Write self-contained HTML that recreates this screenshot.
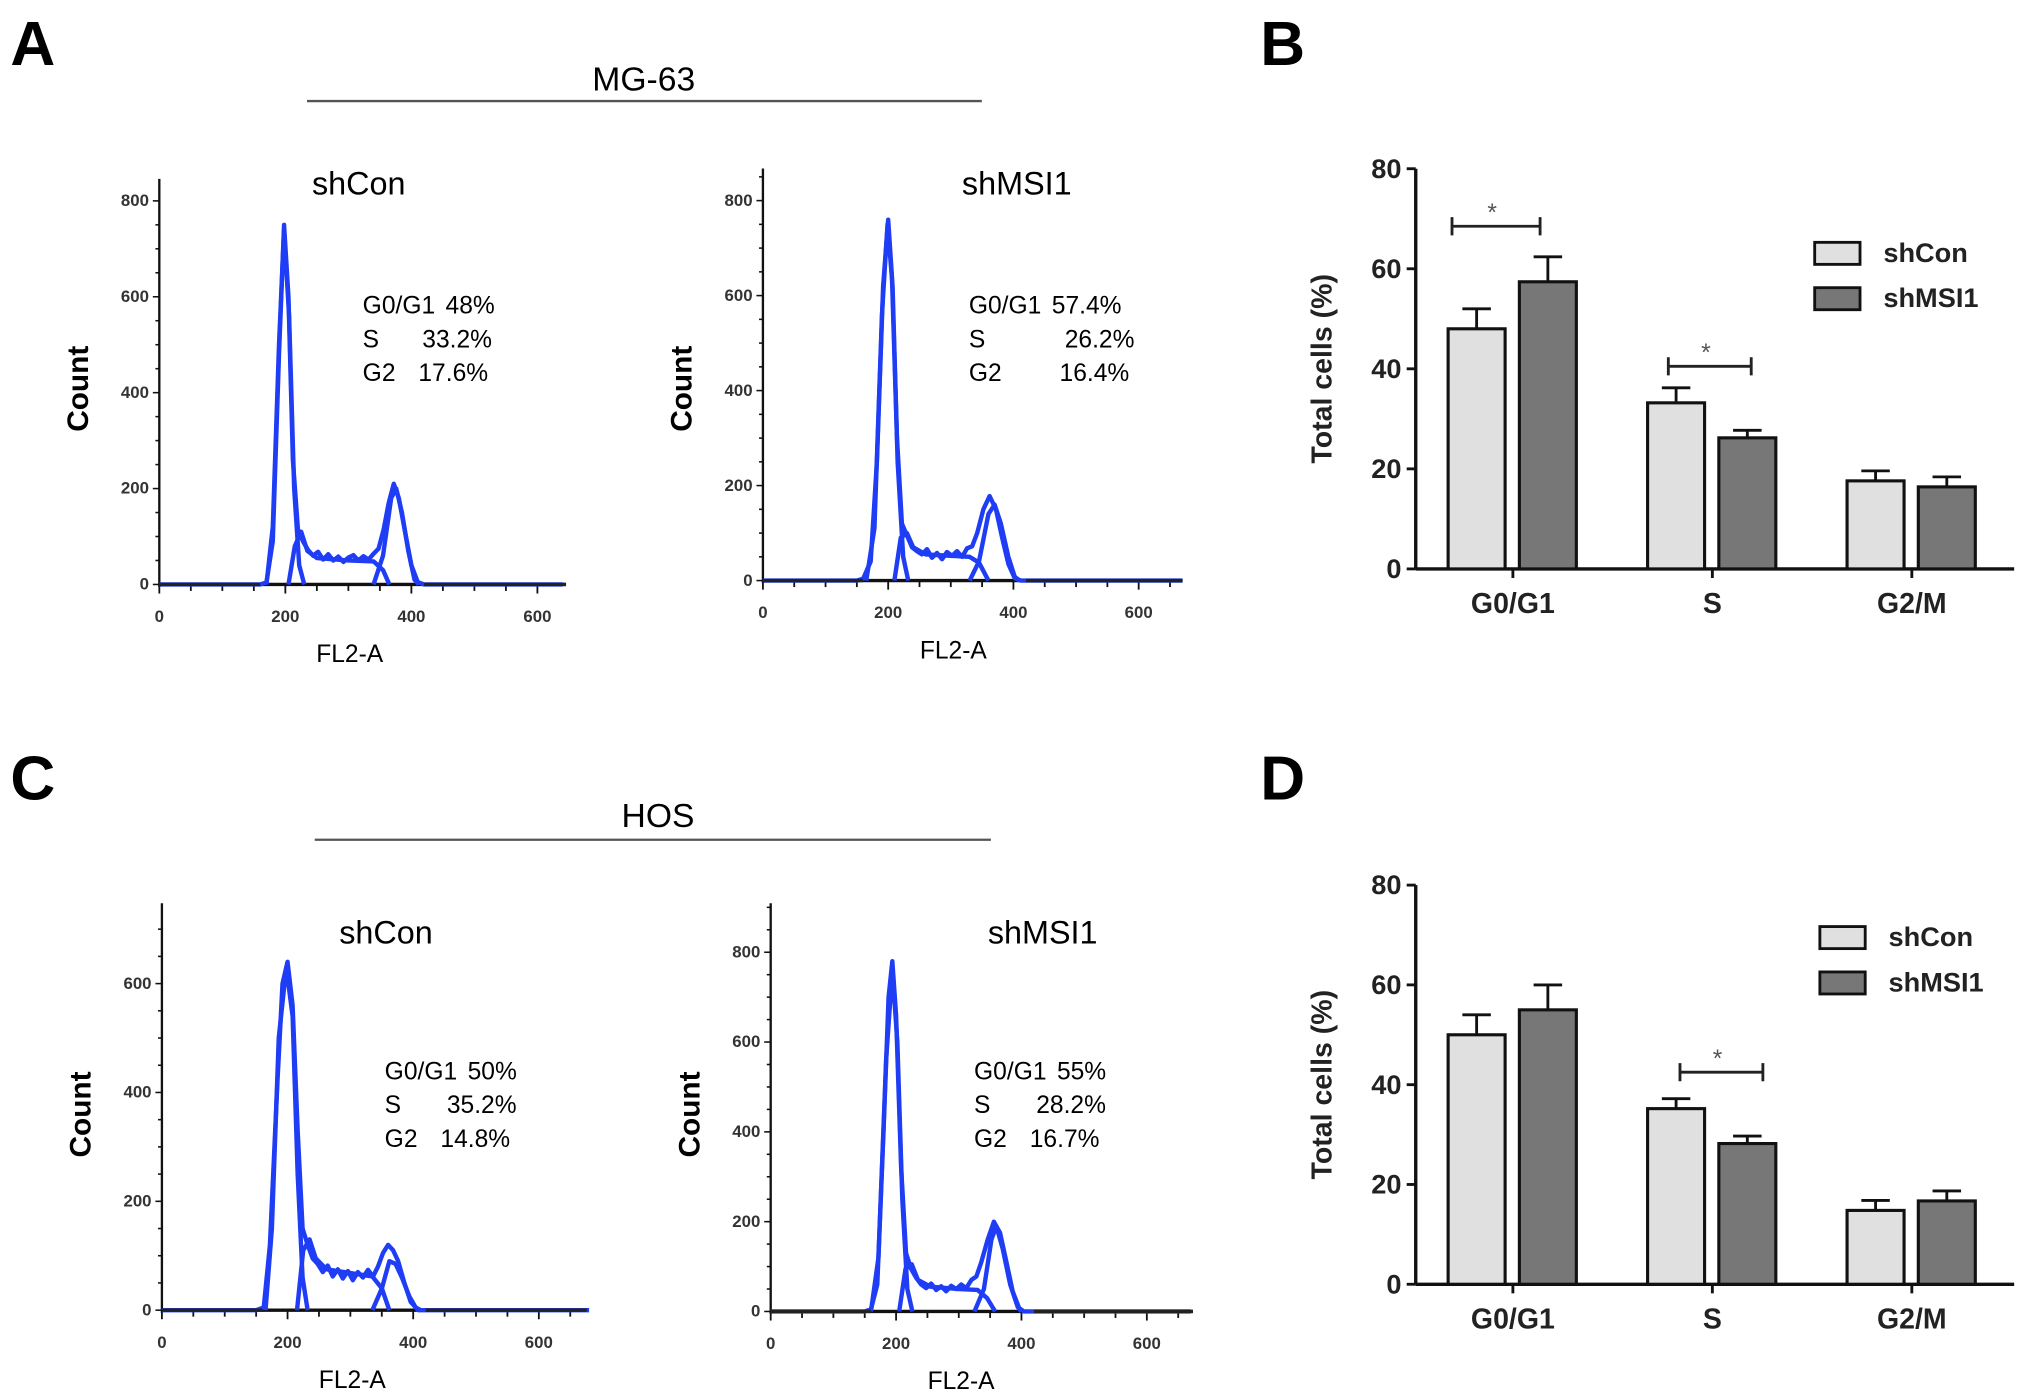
<!DOCTYPE html>
<html><head><meta charset="utf-8"><style>
html,body{margin:0;padding:0;background:#fff;}
svg{display:block;font-family:"Liberation Sans",Arial,sans-serif;}
</style></head><body>
<svg id="fig" width="2031" height="1397" viewBox="0 0 1568 1078" preserveAspectRatio="none" xmlns="http://www.w3.org/2000/svg">
<rect width="1568" height="1078" fill="#fff"/>
<g font-weight="bold" font-size="48" fill="#000">
<text x="8" y="50">A</text>
<text x="973" y="50">B</text>
<text x="8" y="617">C</text>
<text x="973" y="617">D</text>
</g>
<text x="497" y="70" font-size="26" text-anchor="middle">MG-63</text>
<line x1="237" y1="78" x2="758" y2="78" stroke="#555" stroke-width="1.8"/>
<text x="508" y="638" font-size="26" text-anchor="middle">HOS</text>
<line x1="243" y1="648" x2="765" y2="648" stroke="#555" stroke-width="1.8"/>
<g id="plots"></g>
</svg>
<script>
// ---------- Histogram data (FL2-A channel, count) ----------
const h1Total=[[0,0],[160,0],[170,4],[180,90],[190,480],[198,750],[205,600],[212,260],[220,115],[228,90],[236,72],[244,60],[252,68],[260,52],[268,63],[276,50],[284,58],[292,47],[300,56],[308,61],[316,50],[324,59],[332,52],[340,64],[348,75],[356,115],[364,170],[372,210],[380,180],[390,110],[400,40],[410,5],[420,0],[640,0]];
const h1G1=[[170,0],[180,120],[190,500],[198,740],[206,560],[214,200],[222,40],[230,0]];
const h1S=[[205,0],[215,80],[225,110],[235,70],[250,55],[300,50],[340,48],[355,30],[365,0]];
const h1G2=[[340,0],[355,60],[368,180],[376,200],[385,150],[395,70],[405,10],[412,0]];

const h2Total=[[0,0],[150,0],[160,4],[172,40],[182,250],[192,620],[200,760],[206,640],[214,300],[222,120],[230,95],[238,70],[246,62],[254,55],[262,66],[270,48],[278,58],[286,45],[294,60],[302,52],[310,62],[318,50],[326,68],[334,72],[342,100],[352,150],[362,178],[372,150],[382,90],[392,35],[402,5],[412,0],[670,0]];
const h2G1=[[165,0],[178,110],[190,560],[199,750],[207,620],[215,250],[224,50],[232,0]];
const h2S=[[210,0],[220,90],[230,100],[240,70],[260,55],[300,52],[330,50],[345,38],[360,0]];
const h2G2=[[330,0],[345,40],[360,140],[370,160],[380,120],[392,50],[402,8],[410,0]];

const h3Total=[[0,0],[150,0],[162,5],[172,120],[184,420],[192,600],[200,640],[208,560],[216,330],[224,150],[232,120],[240,95],[248,85],[256,70],[264,82],[272,62],[280,75],[288,58],[296,72],[304,55],[312,70],[320,60],[328,74],[336,62],[344,80],[352,105],[360,120],[368,110],[376,90],[386,50],[396,15],[408,0],[680,0]];
const h3G1=[[165,0],[175,150],[186,500],[198,630],[208,540],[216,250],[224,60],[232,0]];
const h3S=[[215,0],[225,110],[235,130],[245,95],[262,75],[300,68],[335,62],[350,40],[362,0]];
const h3G2=[[335,0],[350,40],[362,90],[372,85],[382,60],[394,25],[404,5],[412,0]];

const h4Total=[[0,0],[150,0],[160,5],[170,60],[180,400],[188,700],[194,780],[200,660],[208,320],[216,130],[224,95],[232,75],[240,60],[248,52],[256,62],[264,48],[272,56],[280,45],[288,57],[296,50],[304,60],[312,52],[320,70],[328,78],[336,110],[346,160],[356,200],[366,175],[376,110],[386,45],[396,8],[404,0],[670,0]];
const h4G1=[[160,0],[172,120],[184,560],[194,760],[202,600],[210,250],[218,50],[226,0]];
const h4S=[[205,0],[215,95],[225,105],[235,70],[255,55],[300,50],[330,48],[345,30],[358,0]];
const h4G2=[[325,0],[340,50],[352,160],[360,190],[370,140],[382,60],[394,10],[400,0]];

const histTicksX=[0,200,400,600];
const histTicksY1=[0,200,400,600,800];
const histTicksY3=[0,200,400,600];

// ---------- Bar chart data ----------
const phases=["G0/G1","S","G2/M"];
const bShCon=[48,33.2,17.6];
const bShMSI1=[57.4,26.2,16.4];
const bErrCon=[4,3,2];
const bErrMSI=[5,1.5,2];
const dShCon=[50,35.2,14.8];
const dShMSI1=[55,28.2,16.7];
const dErrCon=[4,2,2];
const dErrMSI=[5,1.5,2];
const barTicksY=[0,20,40,60,80];

const NS="http://www.w3.org/2000/svg";
const root=document.getElementById('plots');
function mk(tag,attrs,parent,txt){const e=document.createElementNS(NS,tag);for(const k in attrs)e.setAttribute(k,attrs[k]);if(txt!==undefined)e.textContent=txt;(parent||root).appendChild(e);return e;}

function hist(cfg){
  const g=mk('g',{});
  
  
  const sx=v=>cfg.x0+(v/200)*cfg.px200;
  const sy=v=>cfg.y0-(v/200)*cfg.py200;
  const ya=mk('line',{x1:cfg.x0,y1:cfg.y0+2,x2:cfg.x0,y2:cfg.ytop,stroke:'#111','stroke-width':1.8},g);
  
  
  const xa=mk('line',{x1:cfg.x0,y1:cfg.y0,x2:cfg.xend,y2:cfg.y0,stroke:'#111','stroke-width':2.6},g);
  
  
  for(let v=0;sx(v)<=cfg.xend;v+=50){mk('line',{x1:sx(v),y1:cfg.y0,x2:sx(v),y2:cfg.y0+(v%200===0?7:5),stroke:'#111','stroke-width':1.4},g);}
  for(let v=0;sy(v)>=cfg.ytop;v+=50){mk('line',{x1:cfg.x0,y1:sy(v),x2:cfg.x0-(v%200===0?5:3),y2:sy(v),stroke:'#111','stroke-width':1.2},g);}
  cfg.ticksX.forEach(v=>{const t=mk('text',{x:sx(v),y:cfg.y0+29,'font-size':13,'text-anchor':'middle','font-weight':'bold','fill':'#333'},g,String(v));});
  cfg.ticksY.forEach(v=>{const t=mk('text',{x:cfg.x0-8,y:sy(v)+4,'font-size':13,'text-anchor':'end','font-weight':'bold','fill':'#333'},g,String(v));});
  const xt=mk('text',{x:cfg.x0+147,y:cfg.y0+60,'font-size':19,'text-anchor':'middle'},g,'FL2-A');
  
  const yt=mk('text',{transform:`translate(${cfg.x0-55},${cfg.ycount}) rotate(-90)`,'font-size':23,'font-weight':'bold','text-anchor':'middle'},g,'Count');
  
  const tt=mk('text',{x:cfg.titleX,y:cfg.titleY,'font-size':25,'text-anchor':'middle'},g,cfg.title);
  
  cfg.stats.forEach((s,i)=>{
    const a=mk('text',{x:cfg.statX,y:cfg.statY+i*26,'font-size':19},g,s[0]);
    
    const b=mk('text',{x:cfg.statX+s[2],y:cfg.statY+i*26,'font-size':19},g,s[1]);
    
  });
  const path=pts=>pts.map((p,i)=>(i?'L':'M')+sx(p[0]).toFixed(1)+' '+sy(p[1]).toFixed(1)).join(' ');
  [['total-trace',cfg.total],['g1-fit',cfg.g1],['s-fit',cfg.s],['g2-fit',cfg.g2]].forEach(([n,d])=>{
    const p=mk('path',{d:path(d),fill:'none',stroke:'#1f3df5','stroke-width':3.4,'stroke-linejoin':'round'},g);
    
  });
  mk('line',{x1:cfg.x0,y1:cfg.y0,x2:sx(160),y2:cfg.y0,stroke:'#222','stroke-width':2.6},g);
  mk('line',{x1:sx(420),y1:cfg.y0,x2:cfg.xend,y2:cfg.y0,stroke:'#222','stroke-width':2.6},g);
}

hist({name:'histogram-mg63-shcon',x0:123,y0:451,px200:97.3,py200:74,ytop:138,xend:437,ticksX:histTicksX,ticksY:histTicksY1,ycount:300,title:'shCon',titleX:277,titleY:150,statX:280,statY:242,stats:[['G0/G1','48%',64],['S','33.2%',46],['G2','17.6%',43]],total:h1Total,g1:h1G1,s:h1S,g2:h1G2});
hist({name:'histogram-mg63-shmsi1',x0:589,y0:448,px200:96.7,py200:73.3,ytop:130,xend:913,ticksX:histTicksX,ticksY:histTicksY1,ycount:300,title:'shMSI1',titleX:785,titleY:150,statX:748,statY:242,stats:[['G0/G1','57.4%',64],['S','26.2%',74],['G2','16.4%',70]],total:h2Total,g1:h2G1,s:h2S,g2:h2G2});
hist({name:'histogram-hos-shcon',x0:125,y0:1011,px200:97,py200:84,ytop:697,xend:453,ticksX:histTicksX,ticksY:histTicksY3,ycount:860,title:'shCon',titleX:298,titleY:728,statX:297,statY:833,stats:[['G0/G1','50%',64],['S','35.2%',48],['G2','14.8%',43]],total:h3Total,g1:h3G1,s:h3S,g2:h3G2});
hist({name:'histogram-hos-shmsi1',x0:595,y0:1012,px200:96.8,py200:69.3,ytop:697,xend:921,ticksX:histTicksX,ticksY:histTicksY1,ycount:860,title:'shMSI1',titleX:805,titleY:728,statX:752,statY:833,stats:[['G0/G1','55%',64],['S','28.2%',48],['G2','16.7%',43]],total:h4Total,g1:h4G1,s:h4S,g2:h4G2});

function bars(cfg){
  const g=mk('g',{});
  
  
  const sy=v=>cfg.y0-v*cfg.pu;
  const ya=mk('line',{x1:cfg.x0,y1:cfg.y0,x2:cfg.x0,y2:sy(80),stroke:'#111','stroke-width':2.6},g);
  
  const xa=mk('line',{x1:cfg.x0,y1:cfg.y0,x2:1555,y2:cfg.y0,stroke:'#111','stroke-width':2.6},g);
  
  barTicksY.forEach(v=>{
    mk('line',{x1:cfg.x0,y1:sy(v),x2:cfg.x0-7,y2:sy(v),stroke:'#111','stroke-width':2.2},g);
    const t=mk('text',{x:cfg.x0-11,y:sy(v)+7,'font-size':21,'font-weight':'bold','text-anchor':'end',fill:'#222'},g,String(v));
    
  });
  const yt=mk('text',{transform:`translate(${cfg.x0-65},${sy(40)}) rotate(-90)`,'font-size':22,'font-weight':'bold','text-anchor':'middle',fill:'#222'},g,'Total cells (%)');
  
  const centers=[1168,1322,1476];
  const bw=44;
  phases.forEach((p,i)=>{
    const c=centers[i];
    mk('line',{x1:c,y1:cfg.y0,x2:c,y2:cfg.y0+7,stroke:'#111','stroke-width':2.2},g);
    const t=mk('text',{x:c,y:cfg.y0+34,'font-size':22,'font-weight':'bold','text-anchor':'middle',fill:'#222'},g,p);
    
    [[cfg.con[i],cfg.econ[i],c-50,'#e0e0e0','bar-shcon-'],[cfg.msi[i],cfg.emsi[i],c+5,'#777','bar-shmsi1-']].forEach(([v,e,x,col,n])=>{
      const cx=x+bw/2;
      mk('line',{x1:cx,y1:sy(v),x2:cx,y2:sy(v+e),stroke:'#111','stroke-width':2.2},g);
      mk('line',{x1:cx-11,y1:sy(v+e),x2:cx+11,y2:sy(v+e),stroke:'#111','stroke-width':2.2},g);
      const r=mk('rect',{x:x,y:sy(v),width:bw,height:sy(0)-sy(v),fill:col,stroke:'#111','stroke-width':2.4},g);
      
    });
  });
  cfg.sig.forEach(s=>{
    const x1=s[0],x2=s[1],y=sy(s[2]);
    const b=mk('path',{d:`M${x1} ${y-7}V${y+7}M${x1} ${y}H${x2}M${x2} ${y-7}V${y+7}`,stroke:'#222','stroke-width':2.2,fill:'none'},g);
    
    const t=mk('text',{x:(x1+x2)/2-3,y:y-4,'font-size':19,'text-anchor':'middle',fill:'#555'},g,'*');
    
  });
  [['shCon','#e0e0e0',0],['shMSI1','#777',35]].forEach(([l,col,dy])=>{
    const r=mk('rect',{x:cfg.lx,y:cfg.ly+dy-8,width:35,height:17,fill:col,stroke:'#111','stroke-width':2.2},g);
    
    const t=mk('text',{x:cfg.lx+53,y:cfg.ly+dy+7,'font-size':21,'font-weight':'bold',fill:'#222'},g,l);
    
  });
}
bars({name:'bar-chart-mg63',x0:1093,y0:439,pu:3.86,con:bShCon,msi:bShMSI1,econ:bErrCon,emsi:bErrMSI,sig:[[1121,1189,68.5],[1288,1352,40.5]],lx:1401,ly:195});
bars({name:'bar-chart-hos',x0:1093,y0:991,pu:3.85,con:dShCon,msi:dShMSI1,econ:dErrCon,emsi:dErrMSI,sig:[[1297,1361,42.5]],lx:1405,ly:723});
</script>
</body></html>
